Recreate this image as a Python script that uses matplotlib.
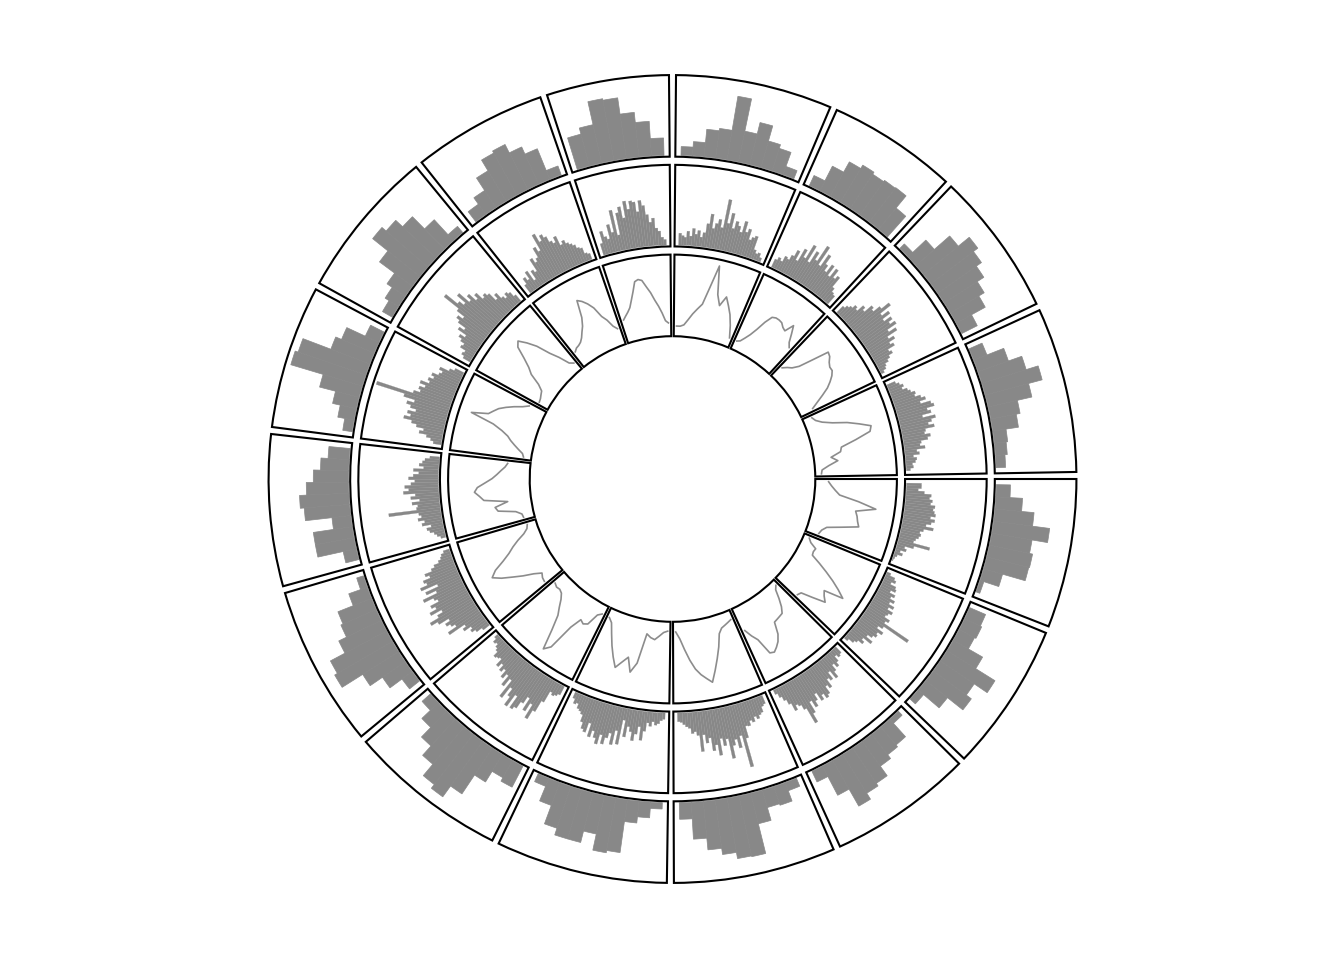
import numpy as np
import matplotlib
matplotlib.use("Agg")
import matplotlib.pyplot as plt

# ---------------- data ----------------
sectors = list("abcdefghijklmnop")
# x-range (data width) of every sector, in data units
sector_xrange = [19.4, 19.4, 18.7, 21.3, 22.7, 20.9, 21.2, 19.8,
                 18.6, 19.6, 17.3, 15.6, 20.5, 16.6, 18.7, 21.7]

# outer track: coarse histogram (relative counts, clockwise order)
outer_hist = [
    [0.18, 0.34, 0.50, 0.72, 0.52, 0.56, 0.55, 0.25, 0.05],
    [0.22, 0.24, 0.22, 0.43, 0.72, 0.52, 0.60, 0.35, 0.09],
    [0.07, 0.30, 0.33, 0.39, 0.54, 0.58, 0.67, 0.42, 0.15],
    [0.11, 0.25, 0.23, 0.40, 0.79, 0.78, 0.70, 0.62, 0.47, 0.21],
    [0.08, 0.20, 0.28, 0.68, 0.71, 0.50, 0.65, 0.65, 0.56, 0.31, 0.11],
    [0.30, 0.25, 0.41, 0.70, 0.87, 0.81, 0.62, 0.46, 0.29, 0.14],
    [0.16, 0.35, 0.54, 0.85, 0.81, 0.60, 0.49, 0.46, 0.25, 0.09],
    [0.17, 0.50, 0.50, 0.24, 0.58, 0.63, 0.54, 0.45, 0.36, 0.27],
    [0.12, 0.21, 0.31, 0.52, 0.95, 0.91, 0.53, 0.45, 0.19],
    [0.14, 0.20, 0.28, 0.52, 0.77, 0.70, 0.58, 0.36, 0.10],
    [0.16, 0.26, 0.45, 0.61, 0.64, 0.52, 0.42, 0.12],
    [0.42, 0.50, 0.80, 0.78, 0.57, 0.44, 0.22],
    [0.11, 0.18, 0.35, 0.38, 0.82, 0.40, 0.55, 0.35, 0.30, 0.11],
    [0.14, 0.35, 0.50, 0.55, 0.52, 0.54, 0.55, 0.35],
    [0.08, 0.31, 0.57, 0.75, 0.68, 0.60, 0.50, 0.42, 0.22],
    [0.18, 0.41, 0.59, 0.75, 0.57, 0.38, 0.33, 0.17, 0.15, 0.12],
]

# middle track: fine histogram (relative counts, clockwise order)
middle_hist = [
    [0.19, 0.19, 0.15, 0.23, 0.32, 0.30, 0.34, 0.32, 0.38, 0.36, 0.38, 0.40, 0.34, 0.40, 0.36, 0.30,
     0.40, 0.28, 0.24, 0.26, 0.24, 0.21, 0.19, 0.41, 0.21, 0.10, 0.13, 0.06, 0.10, 0.04, 0.02, 0.01],
    [0.05, 0.12, 0.15, 0.10, 0.18, 0.20, 0.14, 0.22, 0.18, 0.25, 0.20, 0.28, 0.22, 0.30, 0.26, 0.24,
     0.32, 0.28, 0.66, 0.30, 0.24, 0.34, 0.28, 0.30, 0.26, 0.20, 0.30, 0.18, 0.22, 0.15, 0.12, 0.05],
    [0.10, 0.12, 0.08, 0.15, 0.20, 0.14, 0.22, 0.30, 0.18, 0.28, 0.24, 0.35, 0.30, 0.40, 0.43, 0.36,
     0.42, 0.30, 0.38, 0.45, 0.35, 0.50, 0.62, 0.40, 0.33, 0.30, 0.36, 0.25, 0.18, 0.12, 0.06],
    [0.11, 0.13, 0.20, 0.22, 0.26, 0.22, 0.28, 0.25, 0.31, 0.30, 0.45, 0.82, 0.40, 0.55, 0.43, 0.50,
     0.66, 0.40, 0.48, 0.38, 0.59, 0.45, 0.52, 0.35, 0.41, 0.30, 0.51, 0.30, 0.25, 0.27, 0.20, 0.18,
     0.15, 0.12, 0.11],
    [0.08, 0.10, 0.14, 0.16, 0.12, 0.18, 0.14, 0.25, 0.37, 0.20, 0.30, 0.39, 0.28, 0.22, 0.36, 0.15,
     0.47, 0.30, 0.49, 0.35, 0.42, 0.51, 0.40, 0.53, 0.46, 0.38, 0.47, 0.30, 0.43, 0.40, 0.32, 0.23,
     0.20, 0.18, 0.12, 0.14, 0.08],
    [0.12, 0.15, 0.17, 0.14, 0.30, 0.46, 0.59, 0.40, 0.52, 0.35, 0.45, 0.55, 0.59, 0.42, 0.60, 0.48,
     0.38, 0.55, 0.30, 0.42, 0.28, 0.35, 0.25, 0.30, 0.22, 0.28, 0.18, 0.20, 0.22, 0.15, 0.12, 0.08,
     0.10, 0.05],
    [0.10, 0.18, 0.23, 0.20, 0.30, 0.25, 0.48, 0.35, 0.40, 0.45, 0.38, 0.52, 0.61, 0.48, 0.40, 0.55,
     0.45, 0.50, 0.38, 0.42, 0.55, 0.35, 0.48, 0.30, 0.52, 0.42, 0.45, 0.35, 0.40, 0.30, 0.25, 0.18,
     0.14, 0.12, 0.08],
    [0.06, 0.10, 0.13, 0.18, 0.21, 0.15, 0.26, 0.22, 0.30, 0.25, 0.28, 0.66, 0.30, 0.28, 0.35, 0.25,
     0.36, 0.30, 0.45, 0.38, 0.43, 0.35, 0.30, 0.38, 0.32, 0.25, 0.32, 0.19, 0.25, 0.21, 0.18, 0.12],
    [0.10, 0.14, 0.20, 0.30, 0.25, 0.35, 0.42, 0.53, 0.45, 0.50, 0.40, 0.48, 0.54, 0.45, 0.60, 0.98,
     0.50, 0.42, 0.45, 0.38, 0.46, 0.35, 0.38, 0.32, 0.36, 0.28, 0.25, 0.30, 0.18, 0.12],
    [0.10, 0.14, 0.12, 0.20, 0.18, 0.24, 0.29, 0.22, 0.35, 0.28, 0.40, 0.45, 0.38, 0.50, 0.74, 0.55,
     0.48, 0.62, 0.45, 0.52, 0.40, 0.46, 0.35, 0.38, 0.34, 0.22, 0.28, 0.19, 0.15, 0.20, 0.17, 0.10],
    [0.12, 0.20, 0.15, 0.25, 0.10, 0.22, 0.18, 0.35, 0.28, 0.32, 0.45, 0.38, 0.60, 0.48, 0.55, 0.50,
     0.42, 0.38, 0.45, 0.32, 0.36, 0.31, 0.28, 0.25, 0.20, 0.18, 0.10, 0.08],
    [0.15, 0.30, 0.22, 0.18, 0.36, 0.25, 0.53, 0.20, 0.48, 0.55, 0.40, 0.61, 0.50, 0.60, 0.58, 0.45,
     0.59, 0.52, 0.40, 0.30, 0.35, 0.22, 0.18, 0.10, 0.07],
    [0.15, 0.12, 0.10, 0.18, 0.12, 0.22, 0.15, 0.20, 0.12, 0.18, 0.30, 0.43, 0.25, 0.32, 0.38, 0.28,
     0.65, 0.35, 0.49, 0.30, 0.40, 0.35, 0.28, 0.43, 0.30, 0.35, 0.22, 0.26, 0.29, 0.12, 0.08, 0.10,
     0.05],
    [0.11, 0.15, 0.12, 0.20, 0.18, 0.25, 0.34, 0.22, 0.40, 0.30, 0.50, 0.28, 0.45, 0.35, 0.58, 0.32,
     0.50, 0.38, 0.30, 0.42, 0.28, 0.41, 0.30, 0.35, 0.20, 0.15, 0.13],
    [0.11, 0.15, 0.18, 0.23, 0.20, 0.30, 0.26, 0.38, 0.35, 0.45, 0.57, 0.40, 0.50, 0.38, 0.48, 0.42,
     0.49, 0.35, 0.45, 0.30, 0.37, 0.28, 0.32, 0.22, 0.25, 0.19, 0.15, 0.10, 0.08, 0.04],
    [0.11, 0.15, 0.19, 0.16, 0.22, 0.25, 0.30, 0.28, 0.35, 0.40, 0.32, 0.45, 0.48, 0.38, 0.42, 0.30,
     0.46, 0.40, 0.35, 0.42, 0.30, 0.28, 0.35, 0.31, 0.22, 0.20, 0.26, 0.15, 0.18, 0.10, 0.14, 0.12,
     0.08, 0.09, 0.05],
]

# inner track: line values (relative, clockwise order, evenly spaced over the sector)
inner_line = [
    [0.15, 0.19, 0.24, 0.30, 0.55, 0.78, 0.53, 0.56, 0.58, 0.61, 0.40, 0.22, 0.17, 0.15],
    [0.06, 0.10, 0.19, 0.18, 0.19, 0.32, 0.45, 0.58, 0.70, 0.81, 0.56, 0.60, 0.66, 0.50, 0.35, 0.33],
    [0.05, 0.09, 0.20, 0.30, 0.37, 0.38, 0.39, 0.40, 0.55, 0.63, 0.68, 0.72, 0.70, 0.48, 0.40, 0.30],
    [0.10, 0.12, 0.14, 0.16, 0.22, 0.38, 0.52, 0.66, 0.80, 0.74, 0.68, 0.60, 0.48, 0.34, 0.20, 0.11],
    [0.10, 0.12, 0.17, 0.22, 0.20, 0.16, 0.55, 0.68, 0.50, 0.58, 0.67, 0.55, 0.42, 0.28, 0.15, 0.10],
    [0.10, 0.14, 0.30, 0.33, 0.30, 0.45, 0.80, 0.88, 0.62, 0.43, 0.34, 0.25, 0.19, 0.17, 0.18, 0.16],
    [0.25, 0.24, 0.21, 0.30, 0.43, 0.55, 0.68, 0.78, 0.70, 0.56, 0.45, 0.37, 0.28, 0.18, 0.12, 0.10],
    [0.12, 0.13, 0.20, 0.42, 0.45, 0.28, 0.58, 0.63, 0.69, 0.65, 0.55, 0.46, 0.40, 0.35, 0.30, 0.27],
    [0.08, 0.10, 0.16, 0.22, 0.28, 0.33, 0.42, 0.55, 0.86, 0.65, 0.60, 0.55, 0.47, 0.38, 0.28, 0.21],
    [0.12, 0.13, 0.15, 0.17, 0.25, 0.40, 0.48, 0.60, 0.75, 0.80, 0.70, 0.58, 0.40, 0.28, 0.14, 0.10],
    [0.20, 0.23, 0.24, 0.26, 0.30, 0.36, 0.42, 0.52, 0.74, 0.70, 0.64, 0.56, 0.42, 0.35, 0.25, 0.20],
    [0.28, 0.32, 0.36, 0.41, 0.50, 0.60, 0.72, 0.74, 0.72, 0.63, 0.55, 0.45, 0.37, 0.28, 0.18, 0.15],
    [0.11, 0.11, 0.13, 0.20, 0.28, 0.35, 0.42, 0.65, 0.94, 0.58, 0.45, 0.58, 0.48, 0.38, 0.25, 0.10],
    [0.10, 0.12, 0.18, 0.25, 0.35, 0.48, 0.58, 0.60, 0.60, 0.59, 0.55, 0.53, 0.65, 0.55, 0.45, 0.40],
    [0.15, 0.20, 0.24, 0.32, 0.50, 0.72, 0.70, 0.65, 0.62, 0.62, 0.58, 0.52, 0.45, 0.35, 0.25, 0.16],
    [0.10, 0.13, 0.20, 0.32, 0.50, 0.64, 0.78, 0.75, 0.55, 0.35, 0.33, 0.20, 0.28, 0.16, 0.07, 0.06],
]

# ---------------- layout (circular) ----------------
START_DEG = 0.0
GAP_DEG = 1.0
PAD_DEG = 1.0
YPAD = 0.02
TRACKS = [(0.79, 0.99), (0.57, 0.77), (0.35, 0.55)]   # outer, middle, inner
BAR_COLOR = "#888888"
LINE_COLOR = "#8c8c8c"

W, H = 1344, 960
CX, CY, RPX = 672.5, 481.0, 408.0

fig = plt.figure(figsize=(W / 100, H / 100), dpi=100)
ax = fig.add_axes([(CX - RPX) / W, (CY - RPX) / H, 2 * RPX / W, 2 * RPX / H],
                  projection="polar")
ax.set_ylim(0, 1)
ax.set_axis_off()

n_sec = len(sectors)
deg_per_unit = (360.0 - n_sec * (GAP_DEG + 2 * PAD_DEG)) / sum(sector_xrange)

starts = []
a = START_DEG
for w in sector_xrange:
    starts.append(a)
    a -= w * deg_per_unit + 2 * PAD_DEG + GAP_DEG


def x2theta(i, x):
    return np.deg2rad(starts[i] - PAD_DEG - np.asarray(x) * deg_per_unit)


def data_band(track):
    r0, r1 = TRACKS[track]
    h = r1 - r0
    off = h * YPAD / (1 + 2 * YPAD)
    return r0 + off, h - 2 * off


# cells
for t, (r0, r1) in enumerate(TRACKS):
    for i, w in enumerate(sector_xrange):
        span = w * deg_per_unit + 2 * PAD_DEG
        ax.bar(np.deg2rad(starts[i] - span / 2), r1 - r0, width=np.deg2rad(span),
               bottom=r0, fill=False, edgecolor="black", linewidth=1.5, zorder=3)


def draw_hist(track, values_per_sector, seam_lw):
    rb, hh = data_band(track)
    for i, vals in enumerate(values_per_sector):
        vals = np.asarray(vals, dtype=float)
        n = len(vals)
        w = sector_xrange[i]
        edges = np.linspace(0, w, n + 1)
        mids = (edges[:-1] + edges[1:]) / 2
        ax.bar(x2theta(i, mids), vals * hh, width=np.deg2rad(w / n * deg_per_unit),
               bottom=rb, color=BAR_COLOR, edgecolor=BAR_COLOR, linewidth=seam_lw,
               zorder=2)


draw_hist(0, outer_hist, 0.5)
draw_hist(1, middle_hist, 0.2)

rb, hh = data_band(2)
for i, vals in enumerate(inner_line):
    vals = np.asarray(vals, dtype=float)
    xs = np.linspace(0, sector_xrange[i], len(vals))
    ax.plot(x2theta(i, xs), rb + vals * hh, color=LINE_COLOR, linewidth=1.2, zorder=2)

fig.savefig("out.png", dpi=100, facecolor="white")
